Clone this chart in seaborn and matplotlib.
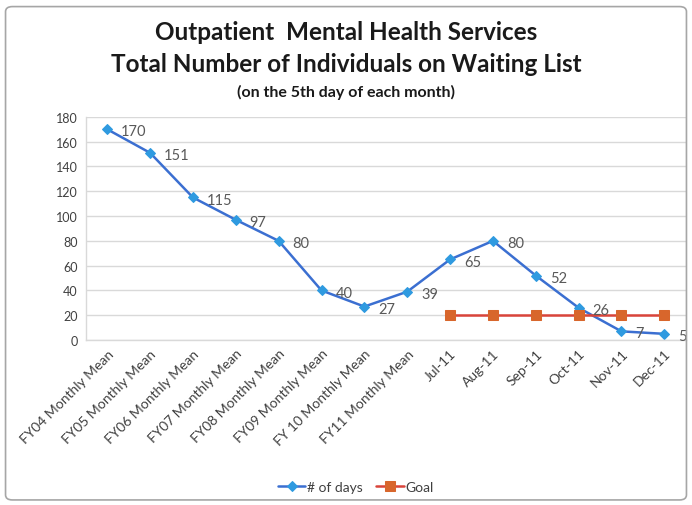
import numpy as np
import pandas as pd
import matplotlib
matplotlib.use("Agg")
import matplotlib.pyplot as plt
import seaborn as sns
from matplotlib.patches import FancyBboxPatch

# ── data ──
categories = [
    "FY04 Monthly Mean", "FY05 Monthly Mean", "FY06 Monthly Mean",
    "FY07 Monthly Mean", "FY08 Monthly Mean", "FY09 Monthly Mean",
    "FY 10 Monthly Mean", "FY11 Monthly Mean",
    "Jul-11", "Aug-11", "Sep-11", "Oct-11", "Nov-11", "Dec-11",
]
days = [170, 151, 115, 97, 80, 40, 27, 39, 65, 80, 52, 26, 7, 5]
goal = [np.nan] * 8 + [20, 20, 20, 20, 20, 20]
yticks = [0, 20, 40, 60, 80, 100, 120, 140, 160, 180]

df = pd.DataFrame({"pos": range(len(categories)), "days": days, "goal": goal})

sns.set_style("white")
plt.rcParams["font.family"] = ["Lato", "DejaVu Sans"]

fig = plt.figure(figsize=(6.92, 5.06), dpi=100)
ax = fig.add_axes([0.124, 0.326, 0.867, 0.441])

sns.lineplot(data=df, x="pos", y="days", ax=ax, color="#3b6fd1", linewidth=1.8,
             marker="D", markersize=5.5, markerfacecolor="#2f9ae0",
             markeredgecolor="#2f9ae0", label="# of days")
sns.lineplot(data=df, x="pos", y="goal", ax=ax, color="#d9443a", linewidth=1.8,
             marker="s", markersize=7, markerfacecolor="#d8662c",
             markeredgecolor="#d8662c", label="Goal")

# data labels to the right of each point
for x, v in zip(df["pos"], days):
    ax.annotate(str(v), (x, v), xytext=(10, -1.5), textcoords="offset points",
                fontsize=10.5, color="#595959", va="center", ha="left")

ax.set_xlim(-0.5, len(categories) - 0.5)
ax.set_ylim(0, 180)
ax.set_yticks(yticks)
ax.set_xticks(range(len(categories)))
ax.set_xticklabels(categories, rotation=45, ha="right", rotation_mode="anchor",
                   fontsize=10, color="#404040")
ax.tick_params(axis="y", labelsize=9, labelcolor="#404040", length=0, pad=6)
ax.tick_params(axis="x", length=0, pad=5)
ax.set_xlabel("")
ax.set_ylabel("")
ax.grid(axis="y", color="#d9d9d9", linewidth=1)
for s in ["top", "right"]:
    ax.spines[s].set_visible(False)
for s in ["left", "bottom"]:
    ax.spines[s].set_color("#d9d9d9")
    ax.spines[s].set_linewidth(1)

ax.legend(loc="center", bbox_to_anchor=(0.45, -0.66), ncol=2, frameon=False,
          fontsize=10, labelcolor="#404040", handlelength=2.0, columnspacing=1.0,
          handletextpad=0.1)

fig.text(0.5, 0.935, "Outpatient  Mental Health Services", ha="center", va="center",
         fontsize=17.5, fontweight="bold", color="#1a1a1a")
fig.text(0.5, 0.872, "Total Number of Individuals on Waiting List", ha="center",
         va="center", fontsize=17.5, fontweight="bold", color="#1a1a1a")
fig.text(0.5, 0.818, "(on the 5th day of each month)", ha="center", va="center",
         fontsize=11.5, fontweight="bold", color="#1a1a1a")

frame = FancyBboxPatch((0.008, 0.01), 0.984, 0.975, boxstyle="round,pad=0,rounding_size=0.01",
                       transform=fig.transFigure, fill=False, edgecolor="#a6a6a6",
                       linewidth=1.2)
fig.patches.append(frame)

fig.savefig("out.png", dpi=100)
